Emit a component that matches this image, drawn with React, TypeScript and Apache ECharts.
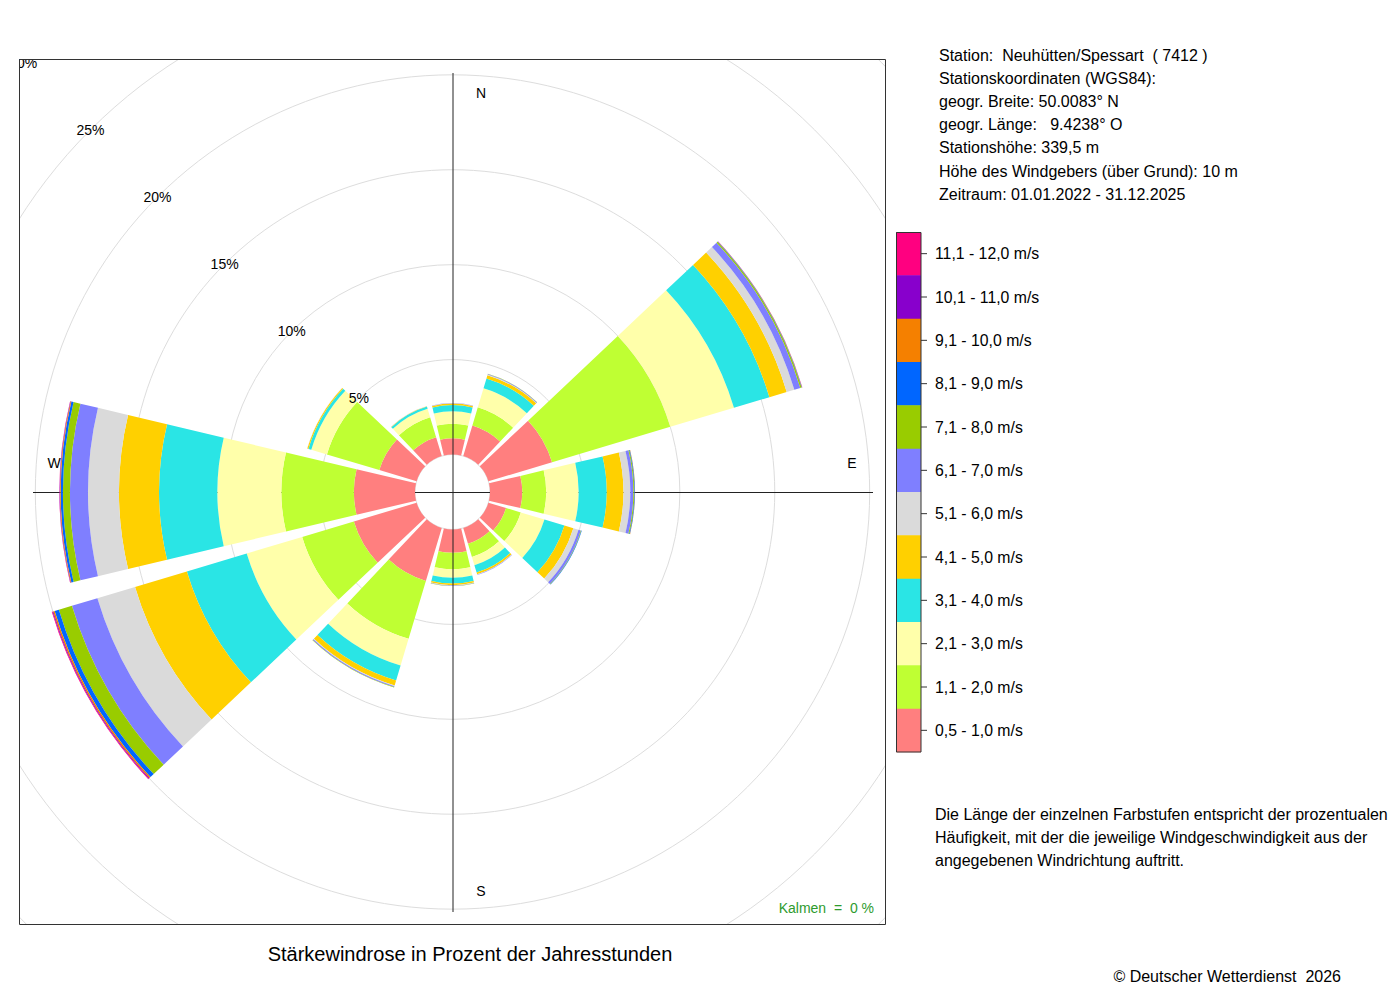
import React, { useEffect, useRef } from 'react';
import * as echarts from 'echarts';

// Wind directions (compass degrees), starting at 330° so that the first sector is centred NNW
const directions = ['330°', '0°', '30°', '60°', '90°', '120°', '150°', '180°', '210°', '240°', '270°', '300°'];

// Speed classes (bottom to top of the stack)
const speedClasses = [
  '0,5 - 1,0 m/s', '1,1 - 2,0 m/s', '2,1 - 3,0 m/s', '3,1 - 4,0 m/s',
  '4,1 - 5,0 m/s', '5,1 - 6,0 m/s', '6,1 - 7,0 m/s', '7,1 - 8,0 m/s',
  '8,1 - 9,0 m/s', '9,1 - 10,0 m/s', '10,1 - 11,0 m/s', '11,1 - 12,0 m/s',
];
const classColors = [
  '#FF7F7F', '#BFFF33', '#FFFFAA', '#2AE5E5', '#FFD000', '#DADADA',
  '#7F7FFF', '#99CC00', '#0066FF', '#F58000', '#8800CC', '#FF0080',
];

// Frequencies in percent per direction (order of `directions`)
const v05to10 = [1.04, 0.85, 1.68, 3.5, 1.7, 0.97, 0.87, 1.23, 2.92, 3.45, 3.22, 2.05];
const v11to20 = [1.1, 0.77, 1.0, 6.5, 1.26, 0.81, 0.73, 0.87, 3.18, 2.84, 3.82, 2.88];
const v21to30 = [0.46, 0.66, 1.05, 3.5, 1.71, 1.3, 0.45, 0.44, 1.47, 3.05, 3.37, 0.86];
const v31to40 = [0.12, 0.32, 0.54, 1.95, 1.48, 1.1, 0.4, 0.3, 0.82, 3.29, 3.07, 0.16];
const v41to50 = [0.02, 0.08, 0.18, 0.95, 0.88, 0.49, 0.1, 0.09, 0.27, 2.85, 2.11, 0.06];
const v51to60 = [0.01, 0.02, 0.03, 0.42, 0.36, 0.28, 0.02, 0.02, 0.04, 2.07, 1.63, 0.01];
const v61to70 = [0, 0.01, 0.03, 0.33, 0.16, 0.13, 0.02, 0.02, 0.05, 1.4, 0.95, 0];
const v71to80 = [0, 0, 0.01, 0.07, 0.05, 0.03, 0, 0.01, 0.02, 0.72, 0.37, 0];
const v81to90 = [0, 0, 0, 0.02, 0.03, 0.02, 0, 0, 0, 0.23, 0.12, 0];
const v91to100 = [0, 0, 0, 0.01, 0.01, 0, 0, 0, 0, 0.08, 0.04, 0];
const v101to110 = [0, 0, 0, 0.005, 0, 0, 0, 0, 0, 0.04, 0.02, 0];
const v111to120 = [0, 0, 0, 0.005, 0, 0, 0, 0, 0, 0.04, 0.01, 0];
const classValues = [
  v05to10, v11to20, v21to30, v31to40, v41to50, v51to60,
  v61to70, v71to80, v81to90, v91to100, v101to110, v111to120,
];

const radiusMax = 30;
const radiusStep = 5;

const compassLabels = ['N', 'E', 'S', 'W'];

const stationLines = [
  'Station:  Neuhütten/Spessart  ( 7412 )',
  'Stationskoordinaten (WGS84):',
  'geogr. Breite: 50.0083° N',
  'geogr. Länge:   9.4238° O',
  'Stationshöhe: 339,5 m',
  'Höhe des Windgebers (über Grund): 10 m',
  'Zeitraum: 01.01.2022 - 31.12.2025',
];
const noteLines = [
  'Die Länge der einzelnen Farbstufen entspricht der prozentualen',
  'Häufigkeit, mit der die jeweilige Windgeschwindigkeit aus der',
  'angegebenen Windrichtung auftritt.',
];
const titleText = 'Stärkewindrose in Prozent der Jahresstunden';
const calmText = 'Kalmen  =  0 %';
const copyrightText = '© Deutscher Wetterdienst  2026';

const FONT = '"Liberation Sans", Arial, Helvetica, sans-serif';

function txt(text: string, x: number, y: number, size: number, extra: any = {}) {
  const align = extra.align || 'left';
  return {
    type: 'text',
    x,
    y,
    z: 12,
    silent: true,
    style: {
      text,
      fill: extra.fill || '#000',
      font: `${size}px ${FONT}`,
      align,
      textAlign: align,
      verticalAlign: 'middle',
      textVerticalAlign: 'middle',
    },
  };
}

export default function App() {
  const ref = useRef<HTMLDivElement>(null);

  useEffect(() => {
    if (!ref.current) return;
    const chart = echarts.init(ref.current, undefined, { renderer: 'svg' });

    const cx = 452.5;
    const cy = 492;

    const series = speedClasses.map((name, i) => ({
      type: 'bar',
      name,
      coordinateSystem: 'polar',
      polarIndex: 0,
      stack: 'total',
      data: classValues[i],
      barCategoryGap: '11%',
      itemStyle: { color: classColors[i], borderWidth: 0 },
      silent: true,
      z: 2,
    }));

    const graphics: any[] = [];
    // cross lines
    graphics.push({
      type: 'line', z: 1, silent: true,
      shape: { x1: 33, y1: cy + 0.5, x2: 873, y2: cy + 0.5 },
      style: { stroke: '#222', lineWidth: 1 },
    });
    graphics.push({
      type: 'line', z: 4, silent: true,
      shape: { x1: cx + 0.5, y1: 73, x2: cx + 0.5, y2: 912 },
      style: { stroke: '#222', lineWidth: 1 },
    });
    // masks outside the plot box
    const mask = (x: number, y: number, w: number, h: number) => ({
      type: 'rect', z: 10, silent: true,
      shape: { x, y, width: w, height: h },
      style: { fill: '#fff' },
    });
    graphics.push(mask(0, 0, 1400, 59));
    graphics.push(mask(0, 925, 1400, 75));
    graphics.push(mask(0, 0, 19, 1000));
    graphics.push(mask(886, 0, 514, 1000));
    // plot box
    graphics.push({
      type: 'rect', z: 11, silent: true,
      shape: { x: 19.5, y: 59.5, width: 866, height: 865 },
      style: { fill: 'none', stroke: '#333', lineWidth: 1 },
    });
    // compass labels
    const compassPos = [[481, 93], [852, 463], [481, 891], [54, 463]];
    compassLabels.forEach((c, i) => {
      graphics.push(txt(c, compassPos[i][0], compassPos[i][1], 14, { align: 'center' }));
    });
    // station info
    stationLines.forEach((l, i) => {
      graphics.push(txt(l, 939, 55 + i * 23.2, 16));
    });
    // legend colour bar
    const lgTop = 232;
    const lgH = 520 / speedClasses.length;
    for (let k = 0; k < speedClasses.length; k++) {
      const idx = speedClasses.length - 1 - k;
      const y = lgTop + k * lgH;
      graphics.push({
        type: 'rect', z: 12, silent: true,
        shape: { x: 896, y, width: 25, height: lgH + 0.3 },
        style: { fill: classColors[idx] },
      });
      graphics.push({
        type: 'line', z: 12, silent: true,
        shape: { x1: 921, y1: y + lgH / 2, x2: 927, y2: y + lgH / 2 },
        style: { stroke: '#333', lineWidth: 1 },
      });
      graphics.push(txt(speedClasses[idx], 935, y + lgH / 2, 15.8));
    }
    graphics.push({
      type: 'rect', z: 13, silent: true,
      shape: { x: 896.5, y: lgTop + 0.5, width: 24.5, height: 519.5 },
      style: { fill: 'none', stroke: '#333', lineWidth: 1 },
    });
    // note
    noteLines.forEach((l, i) => {
      graphics.push(txt(l, 935, 814 + i * 23, 16));
    });
    // title, calm, copyright
    graphics.push(txt(titleText, 470, 954, 20, { align: 'center' }));
    graphics.push(txt(calmText, 874, 908, 14, { align: 'right', fill: '#2E9B2E' }));
    graphics.push(txt(copyrightText, 1341, 976, 16, { align: 'right' }));

    const option: any = {
      animation: false,
      textStyle: { fontFamily: FONT },
      polar: [
        { center: [cx, cy], radius: [37.5, 607] },
        { center: [cx, cy], radius: [37.5, 607] },
      ],
      angleAxis: [
        {
          polarIndex: 0,
          type: 'category',
          data: directions,
          startAngle: 135,
          clockwise: true,
          axisLine: { show: false },
          axisTick: { show: false },
          axisLabel: { show: false },
          splitLine: { show: false },
        },
        {
          polarIndex: 1,
          type: 'value',
          min: 0,
          max: 360,
          startAngle: 135,
          axisLine: { show: false },
          axisTick: { show: false },
          axisLabel: { show: false },
          splitLine: { show: false },
        },
      ],
      radiusAxis: [
        {
          polarIndex: 0,
          type: 'value',
          min: 0,
          max: radiusMax,
          interval: radiusStep,
          axisLine: { show: false },
          axisTick: { show: false },
          axisLabel: { show: false },
          splitLine: { show: true, lineStyle: { color: '#DDDDDD', width: 1 } },
          z: 0,
        },
        {
          polarIndex: 1,
          type: 'value',
          min: 0,
          max: radiusMax,
          interval: radiusStep,
          z: 5,
          axisLine: { show: false },
          axisTick: { show: false },
          splitLine: { show: false },
          axisLabel: {
            show: true,
            showMinLabel: false,
            formatter: '{value}%',
            margin: 0,
            align: 'center',
            verticalAlign: 'middle',
            fontSize: 14,
            color: '#000',
            fontFamily: FONT,
          },
        },
      ],
      series,
      graphic: { elements: graphics },
    };

    chart.setOption(option);
    return () => chart.dispose();
  }, []);

  return (
    <div
      ref={ref}
      style={{ position: 'absolute', left: 0, top: 0, width: 1400, height: 1000, background: '#fff' }}
    />
  );
}
